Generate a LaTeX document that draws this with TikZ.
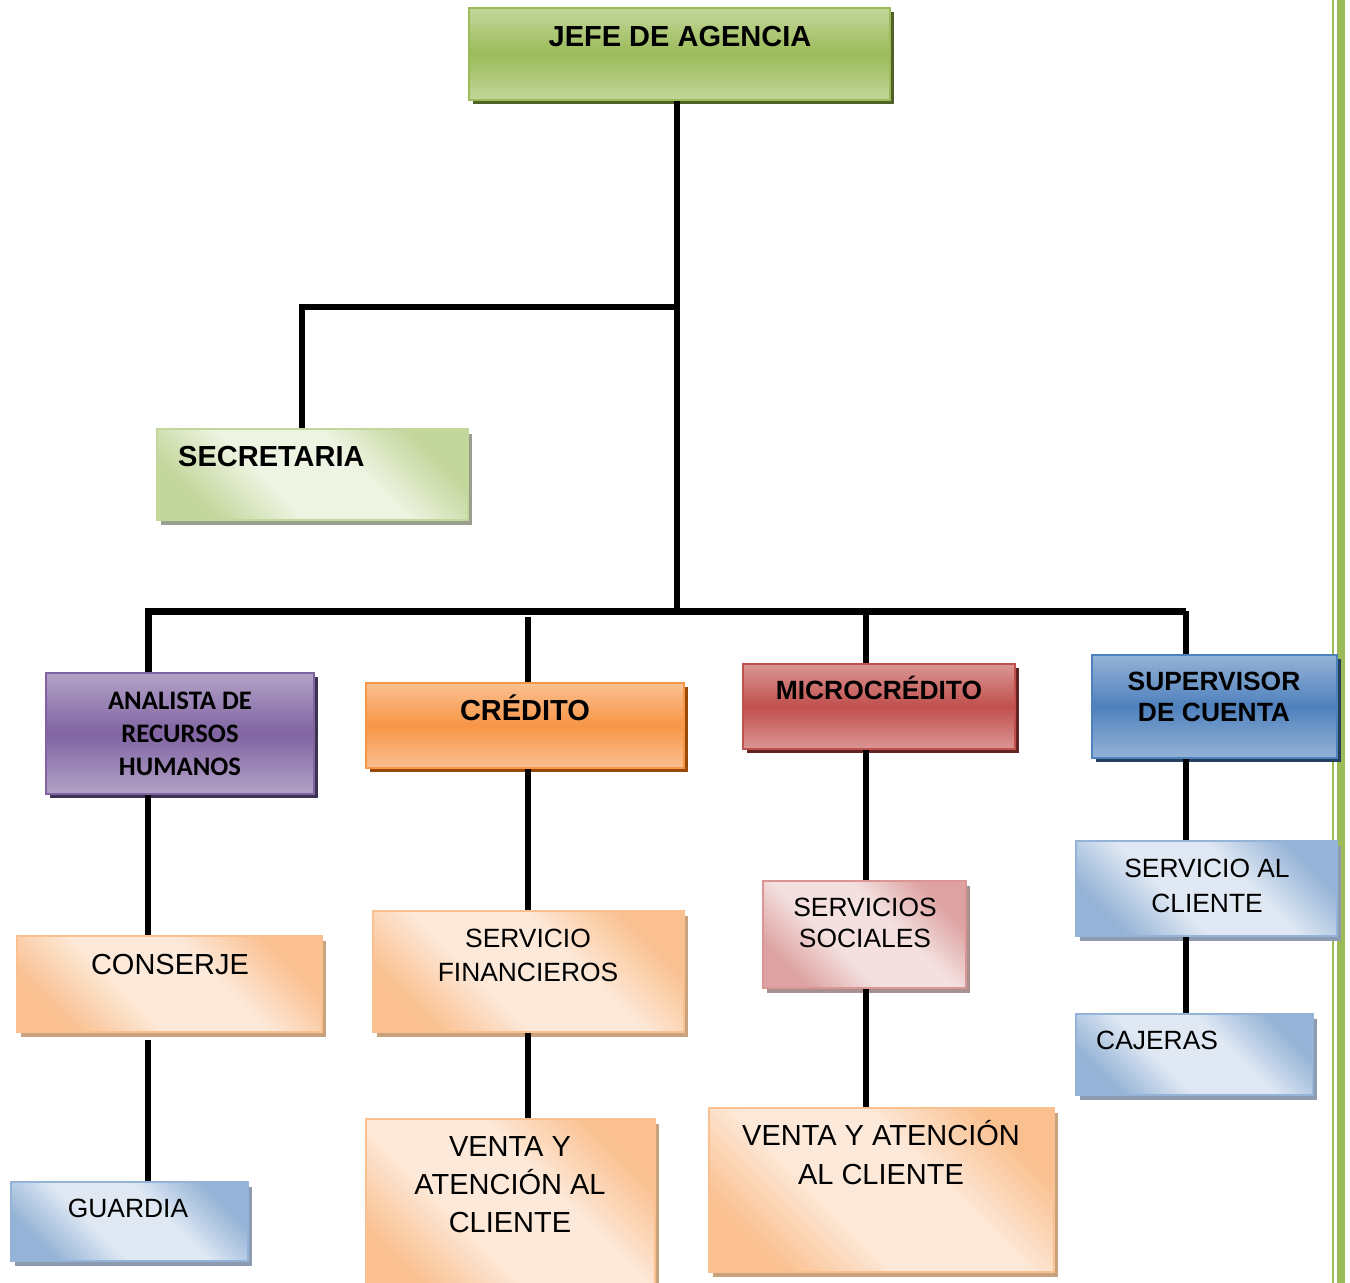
\documentclass[tikz,border=0pt]{standalone}
\usepackage{fontspec}
\setmainfont{Liberation Sans}
\newfontfamily\carlito{Carlito}
\usetikzlibrary{shadows}
\definecolor{gL}{HTML}{C3D69B}\definecolor{gM}{HTML}{9BBB59}\definecolor{gD}{HTML}{4F6228}
\definecolor{pL}{HTML}{B3A2C7}\definecolor{pM}{HTML}{8064A2}\definecolor{pD}{HTML}{3F3151}
\definecolor{oL}{HTML}{FAC090}\definecolor{oM}{HTML}{F79646}\definecolor{oD}{HTML}{984807}
\definecolor{rL}{HTML}{DA9694}\definecolor{rM}{HTML}{C0504D}\definecolor{rD}{HTML}{632523}
\definecolor{bL}{HTML}{95B3D7}\definecolor{bM}{HTML}{4F81BD}\definecolor{bD}{HTML}{243F60}
\definecolor{pgP}{HTML}{EEF4E2}\definecolor{pgS}{HTML}{9A9E8C}
\definecolor{poP}{HTML}{FDE9D9}\definecolor{poS}{HTML}{C9A27E}
\definecolor{pbP}{HTML}{DFE8F3}\definecolor{pbS}{HTML}{8D9BB0}
\definecolor{ppC}{HTML}{DDA2A1}\definecolor{ppP}{HTML}{F3E0DF}\definecolor{ppS}{HTML}{A89090}
\pgfdeclareverticalshading{shgreen}{100bp}{color(0bp)=(gL); color(25bp)=(gL); color(41bp)=(pgP); color(59bp)=(pgP); color(75bp)=(gL); color(100bp)=(gL)}
\pgfdeclareverticalshading{shorange}{100bp}{color(0bp)=(oL); color(25bp)=(oL); color(41bp)=(poP); color(59bp)=(poP); color(75bp)=(oL); color(100bp)=(oL)}
\pgfdeclareverticalshading{shblue}{100bp}{color(0bp)=(bL); color(25bp)=(bL); color(41bp)=(pbP); color(59bp)=(pbP); color(75bp)=(bL); color(100bp)=(bL)}
\pgfdeclareverticalshading{shpink}{100bp}{color(0bp)=(ppC); color(25bp)=(ppC); color(41bp)=(ppP); color(59bp)=(ppP); color(75bp)=(ppC); color(100bp)=(ppC)}
\begin{document}
\begin{tikzpicture}[x=1pt,y=-1pt,
  box/.style={rectangle, inner sep=0pt, line width=2pt},
  vbox/.style n args={4}{box, draw=#2, top color=#1, bottom color=#1, middle color=#2,
     general shadow={fill=#3, shadow xshift=4pt, shadow yshift=-4pt}},
  dbox/.style n args={3}{box, draw=#3, shade, shading=#1, shading angle=-45,
     general shadow={fill=#2, shadow xshift=4pt, shadow yshift=-5pt}},
  greenbox/.style={vbox={gL}{gM}{gD}{}},
  purplebox/.style={vbox={pL}{pM}{pD}{}},
  orangebox/.style={vbox={oL}{oM}{oD}{}},
  redbox/.style={vbox={rL}{rM}{rD}{}},
  bluebox/.style={vbox={bL}{bM}{bD}{}},
  pgreen/.style={dbox={shgreen}{pgS}{gL}},
  porange/.style={dbox={shorange}{poS}{oL}},
  pblue/.style={dbox={shblue}{pbS}{bL}},
  ppink/.style={dbox={shpink}{ppS}{rL}},
  tb/.style={inner sep=0pt, align=center, font=\bfseries\fontsize{29}{33}\selectfont},
  tbs/.style={inner sep=0pt, align=center, font=\bfseries\fontsize{26.4}{#1}\selectfont},
  tcb/.style={inner sep=0pt, align=center, font=\carlito\bfseries\fontsize{26.7}{#1}\selectfont},
  tr/.style={inner sep=0pt, align=center, font=\fontsize{29}{#1}\selectfont},
  trs/.style={inner sep=0pt, align=center, font=\fontsize{26.4}{#1}\selectfont},
  conn/.style={line width=6pt, draw=black},
  bus/.style={line width=7pt, draw=black}]
\useasboundingbox (0,0) rectangle (1350,1283);
\clip (0,0) rectangle (1350,1283);
% page border lines
\fill[gM] (1331.8,0) rectangle (1333.6,1283);
\fill[gM] (1337,0) rectangle (1345,1283);
% coordinates
\coordinate (jct) at (677,611);
\coordinate (busL) at (148,611);
\coordinate (busR) at (1186,611);
\coordinate (sj) at (677,307);
\coordinate (sk) at (302,307);
\coordinate (cdrop) at (528,617);
\coordinate (mdrop) at (866,611);
% boxes
\node[greenbox, minimum width=421, minimum height=92] (jefe) at (679.5,54) {};
\node[pgreen, minimum width=311, minimum height=91] (secretaria) at (312.5,474.5) {};
\node[purplebox, minimum width=268, minimum height=121] (analista) at (180,733.5) {};
\node[orangebox, minimum width=318, minimum height=85] (credito) at (525,725.5) {};
\node[redbox, minimum width=272, minimum height=85] (micro) at (879,706.5) {};
\node[bluebox, minimum width=245, minimum height=103] (supervisor) at (1214.5,706.5) {};
\node[porange, minimum width=305, minimum height=96] (conserje) at (169.5,984) {};
\node[porange, minimum width=311, minimum height=121] (servfin) at (528.5,971.5) {};
\node[ppink, minimum width=203, minimum height=107] (servsoc) at (864.5,934.5) {};
\node[pblue, minimum width=261, minimum height=95] (servcli) at (1206.5,888.5) {};
\node[pblue, minimum width=237, minimum height=81] (cajeras) at (1194.5,1054.5) {};
\node[pblue, minimum width=237, minimum height=79] (guardia) at (129.5,1221.5) {};
\node[porange, minimum width=289, minimum height=180] (venta1) at (510.5,1209) {};
\node[porange, minimum width=345, minimum height=164] (venta2) at (881.5,1190) {};
% texts
\node[tb, anchor=base] (jefe-t) at (680,46.4) {JEFE DE AGENCIA};
\node[tb, anchor=base west] (secretaria-t) at (178,466.4) {SECRETARIA};
\node[tcb=33] (analista-t) at (180,734) {ANALISTA DE\\RECURSOS\\HUMANOS};
\node[tb, anchor=base] (credito-t) at (525,720.4) {CRÉDITO};
\node[tbs=31, anchor=base] (micro-t) at (879,699.5) {MICROCRÉDITO};
\node[tbs=31] (supervisor-t) at (1214,696.5) {SUPERVISOR\\DE CUENTA};
\node[tr=33, anchor=base] (conserje-t) at (170,974.4) {CONSERJE};
\node[trs=34] (servfin-t) at (528,955) {SERVICIO\\FINANCIEROS};
\node[trs=31] (servsoc-t) at (865,922.5) {SERVICIOS\\SOCIALES};
\node[trs=35] (servcli-t) at (1207,885.5) {SERVICIO AL\\CLIENTE};
\node[trs=31, anchor=base west] (cajeras-t) at (1096,1049.5) {CAJERAS};
\node[trs=31, anchor=base] (guardia-t) at (128,1217.5) {GUARDIA};
\node[tr=38] (venta1-t) at (510,1185) {VENTA Y\\ATENCIÓN AL\\CLIENTE};
\node[tr=39] (venta2-t) at (881,1152.5) {VENTA Y ATENCIÓN\\AL CLIENTE};
% connectors
\draw[conn] (jefe.south -| jct) -- (jct);
\draw[conn] (sj) -- (sk) -- (secretaria.north -| sk);
\draw[bus] (analista.north -| busL) |- (busR);
\draw[conn] (busR) -- (supervisor.north -| busR);
\draw[conn] (cdrop) -- (credito.north -| cdrop);
\draw[conn] (mdrop) -- (micro.north -| mdrop);
\draw[conn] (analista.south -| busL) -- (conserje.north -| busL);
\draw[conn] ([yshift=-7pt]conserje.south -| busL) -- (guardia.north -| busL);
\draw[conn] (credito.south -| cdrop) -- (servfin.north -| cdrop);
\draw[conn] (servfin.south -| cdrop) -- (venta1.north -| cdrop);
\draw[conn] (micro.south -| mdrop) -- (servsoc.north -| mdrop);
\draw[conn] (servsoc.south -| mdrop) -- (venta2.north -| mdrop);
\draw[conn] (supervisor.south -| busR) -- (servcli.north -| busR);
\draw[conn] (servcli.south -| busR) -- (cajeras.north -| busR);
\end{tikzpicture}
\end{document}
